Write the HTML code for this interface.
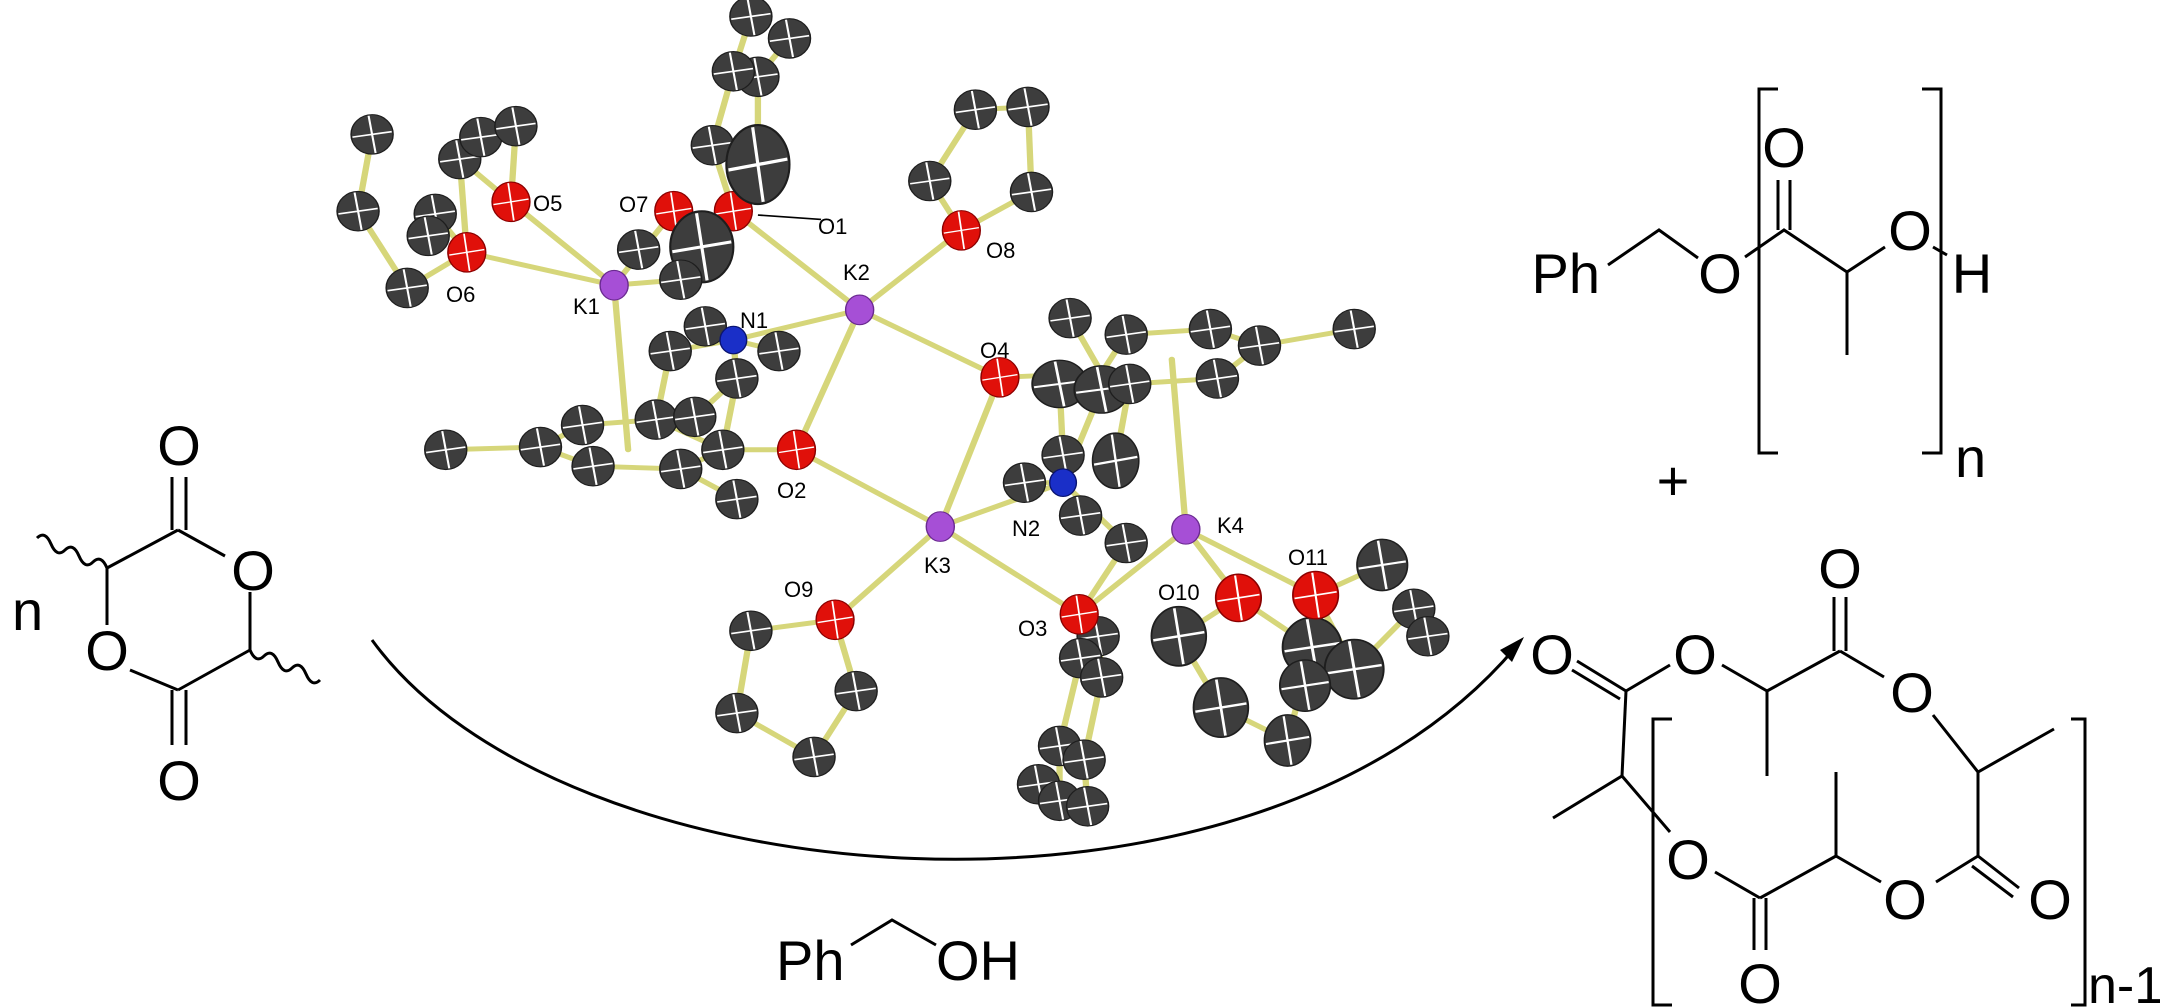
<!DOCTYPE html>
<html><head><meta charset="utf-8"><style>
html,body{margin:0;padding:0;background:#fff;}
svg{display:block;}
text{font-family:"Liberation Sans",Arial,sans-serif;fill:#000;}
</style></head><body>
<svg width="2160" height="1008" viewBox="0 0 2160 1008" xmlns="http://www.w3.org/2000/svg">
<defs>
<g id="c"><ellipse rx="30" ry="36" fill="#3d3d3d" stroke="#1e1e1e" stroke-width="2"/><path d="M-28,5 L28,-5 M-5,-34 L5,34" stroke="#fff" stroke-width="3" fill="none"/></g>
<g id="o"><ellipse rx="27" ry="36" fill="#e0100a" stroke="#8a0000" stroke-width="2"/><path d="M-25,5 L25,-5 M-4,-34 L4,34" stroke="#fff" stroke-width="2.5" fill="none"/></g>
<g id="k"><ellipse rx="20" ry="27" fill="#a64fd6" stroke="#6a2a90" stroke-width="2"/></g>
<g id="n"><ellipse rx="19" ry="25" fill="#1a2fc8" stroke="#0a1470" stroke-width="2"/></g>
</defs>

<!-- Lactide -->
<g stroke="#000" stroke-width="3" fill="none">
<path d="M172,477 L172,530 M186,477 L186,530"/>
<path d="M178,530 L225,556"/>
<path d="M178,530 L107,568"/>
<path d="M107,568 L107,625"/>
<path d="M107,568 q-6,-14 -14,-6 q-8,8 -14,-6 q-6,-14 -14,-6 q-8,8 -14,-6 q-6,-14 -14,-6"/>
<path d="M250,592 L250,650"/>
<path d="M250,650 L178,690"/>
<path d="M130,670 L178,690"/>
<path d="M172,690 L172,745 M186,690 L186,745"/>
<path d="M250,650 q6,14 14,6 q8,-8 14,6 q6,14 14,6 q8,-8 14,6 q6,14 14,6"/>
</g>
<text x="179" y="465" font-size="56" text-anchor="middle">O</text>
<text x="253" y="590" font-size="56" text-anchor="middle">O</text>
<text x="107" y="670" font-size="56" text-anchor="middle">O</text>
<text x="179" y="800" font-size="56" text-anchor="middle">O</text>
<text x="12" y="630" font-size="56">n</text>

<!-- arrow -->
<path d="M372,640 C560,900 1250,960 1515,648" stroke="#000" stroke-width="3" fill="none"/>
<path d="M1524,637 L1500,650 L1512,662 Z" fill="#000"/>

<!-- BnOH -->
<text x="776" y="980" font-size="56">Ph</text>
<path d="M851,945 L892,920 L936,945" stroke="#000" stroke-width="3" fill="none"/>
<text x="936" y="980" font-size="56">OH</text>

<!-- top product -->
<text x="1600" y="293" font-size="56" text-anchor="end">Ph</text>
<g stroke="#000" stroke-width="3" fill="none">
<path d="M1608,265 L1659,230 L1698,258"/>
<path d="M1745,257 L1784,230 L1847,272 L1847,355"/>
<path d="M1778,180 L1778,230 M1790,180 L1790,230"/>
<path d="M1847,272 L1885,247"/>
<path d="M1933,247 L1947,255"/>
<path d="M1778,89 L1759,89 L1759,453 L1778,453"/>
<path d="M1922,89 L1941,89 L1941,453 L1922,453"/>
</g>
<text x="1720" y="293" font-size="56" text-anchor="middle">O</text>
<text x="1784" y="167" font-size="56" text-anchor="middle">O</text>
<text x="1910" y="250" font-size="56" text-anchor="middle">O</text>
<text x="1972" y="293" font-size="56" text-anchor="middle">H</text>
<text x="1955" y="477" font-size="56">n</text>
<text x="1673" y="500" font-size="56" text-anchor="middle">+</text>

<!-- macrocycle -->
<g stroke="#000" stroke-width="3" fill="none">
<path d="M1577,661 L1626,691 M1572,670 L1620,699"/>
<path d="M1626,691 L1670,665"/>
<path d="M1722,665 L1767,691 L1767,776"/>
<path d="M1767,691 L1840,651"/>
<path d="M1834,597 L1834,651 M1846,597 L1846,651"/>
<path d="M1840,651 L1884,677"/>
<path d="M1933,715 L1978,772 L2054,729"/>
<path d="M1978,772 L1978,856"/>
<path d="M1978,856 L2019,888 M1972,866 L2013,897"/>
<path d="M1978,856 L1936,882"/>
<path d="M1881,882 L1836,856 L1836,772"/>
<path d="M1836,856 L1760,898"/>
<path d="M1754,898 L1754,950 M1766,898 L1766,950"/>
<path d="M1760,898 L1715,872"/>
<path d="M1670,832 L1622,776 L1553,818"/>
<path d="M1622,776 L1626,691"/>
<path d="M1672,719 L1653,719 L1653,1005 L1672,1005"/>
<path d="M2071,719 L2085,719 L2085,1005 L2071,1005"/>
</g>
<text x="1552" y="674" font-size="56" text-anchor="middle">O</text>
<text x="1695" y="674" font-size="56" text-anchor="middle">O</text>
<text x="1840" y="588" font-size="56" text-anchor="middle">O</text>
<text x="1912" y="712" font-size="56" text-anchor="middle">O</text>
<text x="2050" y="919" font-size="56" text-anchor="middle">O</text>
<text x="1905" y="919" font-size="56" text-anchor="middle">O</text>
<text x="1688" y="879" font-size="56" text-anchor="middle">O</text>
<text x="1760" y="1003" font-size="56" text-anchor="middle">O</text>
<text x="2088" y="1003" font-size="52">n-1</text>

<!-- crystal structure -->
<g transform="translate(330,0) scale(0.7015,0.5485)">
<g stroke="#d6d67a" stroke-width="9" fill="none" stroke-linecap="round">
<path d="M405,520 L258,368 M405,520 L195,460 M405,520 L490,385 M405,520 L425,820 M405,520 L500,510"/>
<path d="M755,565 L575,385 M755,565 L900,420 M755,565 L575,620 M755,565 L955,688 M755,565 L665,820"/>
<path d="M870,960 L665,820 M870,960 L955,688 M870,960 L1045,880 M870,960 L720,1130 M870,960 L1068,1120"/>
<path d="M1220,965 L1068,1120 M1220,965 L1295,1090 M1220,965 L1405,1085 M1220,965 L1200,655"/>
<path d="M60,245 L40,385 L110,525 L195,460 L185,290 L258,368 M185,290 L215,250 L265,230 L258,368 M150,390 L195,460"/>
<path d="M600,30 L575,130 L545,265 L575,385 M655,70 L610,140 L610,300 M575,130 L610,140"/>
<path d="M920,200 L995,195 L1000,350 L900,420 L855,330 L920,200"/>
<path d="M165,820 L300,815 L360,775 L465,765 L560,820 L665,820 M300,815 L375,850 L500,855 L560,820 M500,855 L580,910 M465,765 L485,640 L575,620 L640,640 M575,620 L535,595 M575,620 L580,690 L560,820 M520,760 L580,690"/>
<path d="M720,1130 L600,1150 L580,1300 L690,1380 L750,1260 L720,1130"/>
<path d="M955,688 L1100,680 L1135,610 L1255,600 L1325,630 L1460,600 M1100,680 L1140,700 L1265,690 L1325,630 M1055,580 L1100,680 M1040,700 L1045,830 L1045,880 L1100,710 M1045,880 L990,880 M1045,880 L1135,990 L1068,1120 M1120,840 L1140,700"/>
<path d="M1068,1120 L1095,1160 L1100,1235 L1075,1385 L1080,1470 M1070,1200 L1040,1360 L1040,1460"/>
<path d="M1295,1090 L1210,1160 L1270,1290 L1365,1350 L1400,1180 L1295,1090 M1405,1085 L1500,1030 M1405,1085 L1460,1220 L1545,1110 L1565,1160"/>
</g>
<use href="#c" transform="translate(60,245)"/><use href="#c" transform="translate(40,385)"/><use href="#c" transform="translate(110,525)"/>
<use href="#c" transform="translate(185,290)"/><use href="#c" transform="translate(215,250)"/><use href="#c" transform="translate(265,230)"/>
<use href="#c" transform="translate(150,390)"/><use href="#c" transform="translate(140,430)"/>
<use href="#c" transform="translate(600,30)"/><use href="#c" transform="translate(655,70)"/><use href="#c" transform="translate(610,140)"/><use href="#c" transform="translate(575,130)"/>
<use href="#c" transform="translate(545,265)"/>
<use href="#o" transform="translate(258,368)"/><use href="#o" transform="translate(195,460)"/><use href="#o" transform="translate(490,385)"/><use href="#o" transform="translate(575,385)"/>
<use href="#c" transform="translate(610,300) scale(1.5,2)"/>
<use href="#c" transform="translate(440,455)"/><use href="#c" transform="translate(530,450) scale(1.5,1.8)"/><use href="#c" transform="translate(500,510)"/>
<use href="#c" transform="translate(920,200)"/><use href="#c" transform="translate(995,195)"/><use href="#c" transform="translate(855,330)"/><use href="#c" transform="translate(1000,350)"/>
<use href="#o" transform="translate(900,420)"/>
<use href="#c" transform="translate(165,820)"/><use href="#c" transform="translate(300,815)"/><use href="#c" transform="translate(360,775)"/><use href="#c" transform="translate(375,850)"/>
<use href="#c" transform="translate(465,765)"/><use href="#c" transform="translate(520,760)"/><use href="#c" transform="translate(500,855)"/><use href="#c" transform="translate(580,910)"/>
<use href="#c" transform="translate(560,820)"/><use href="#c" transform="translate(485,640)"/><use href="#c" transform="translate(535,595)"/><use href="#c" transform="translate(640,640)"/><use href="#c" transform="translate(580,690)"/>
<use href="#c" transform="translate(600,1150)"/><use href="#c" transform="translate(580,1300)"/><use href="#c" transform="translate(690,1380)"/><use href="#c" transform="translate(750,1260)"/>
<use href="#c" transform="translate(1055,580)"/><use href="#c" transform="translate(1135,610)"/><use href="#c" transform="translate(1255,600)"/><use href="#c" transform="translate(1325,630)"/>
<use href="#c" transform="translate(1460,600)"/><use href="#c" transform="translate(1265,690)"/><use href="#c" transform="translate(1040,700) scale(1.3,1.2)"/><use href="#c" transform="translate(1100,710) scale(1.3,1.2)"/>
<use href="#c" transform="translate(1140,700)"/><use href="#c" transform="translate(1120,840) scale(1.1,1.4)"/><use href="#c" transform="translate(990,880)"/><use href="#c" transform="translate(1045,830)"/>
<use href="#c" transform="translate(1070,940)"/><use href="#c" transform="translate(1135,990)"/>
<use href="#c" transform="translate(1095,1160)"/><use href="#c" transform="translate(1070,1200)"/><use href="#c" transform="translate(1100,1235)"/><use href="#c" transform="translate(1040,1360)"/>
<use href="#c" transform="translate(1075,1385)"/><use href="#c" transform="translate(1010,1430)"/><use href="#c" transform="translate(1040,1460)"/><use href="#c" transform="translate(1080,1470)"/>
<use href="#c" transform="translate(1210,1160) scale(1.3,1.5)"/><use href="#c" transform="translate(1500,1030) scale(1.2,1.3)"/><use href="#c" transform="translate(1545,1110)"/><use href="#c" transform="translate(1565,1160)"/>
<use href="#c" transform="translate(1400,1180) scale(1.4,1.5)"/><use href="#c" transform="translate(1460,1220) scale(1.4,1.5)"/><use href="#c" transform="translate(1390,1250) scale(1.2,1.3)"/>
<use href="#c" transform="translate(1270,1290) scale(1.3,1.5)"/><use href="#c" transform="translate(1365,1350) scale(1.1,1.3)"/>
<use href="#o" transform="translate(955,688)"/><use href="#o" transform="translate(665,820)"/><use href="#o" transform="translate(720,1130)"/><use href="#o" transform="translate(1068,1120)"/>
<use href="#o" transform="translate(1295,1090) scale(1.2,1.2)"/><use href="#o" transform="translate(1405,1085) scale(1.2,1.2)"/>
<use href="#k" transform="translate(405,520)"/><use href="#k" transform="translate(755,565)"/><use href="#k" transform="translate(870,960)"/><use href="#k" transform="translate(1220,965)"/>
<use href="#n" transform="translate(575,620)"/><use href="#n" transform="translate(1045,880)"/>
<path d="M700,400 L610,392" stroke="#000" stroke-width="3" fill="none"/>
</g>
<g font-size="22">
<text x="533" y="211">O5</text>
<text x="619" y="212">O7</text>
<text x="818" y="234">O1</text>
<text x="986" y="258">O8</text>
<text x="446" y="302">O6</text>
<text x="573" y="314">K1</text>
<text x="843" y="280">K2</text>
<text x="740" y="328">N1</text>
<text x="980" y="358">O4</text>
<text x="777" y="498">O2</text>
<text x="1012" y="536">N2</text>
<text x="924" y="573">K3</text>
<text x="1217" y="533">K4</text>
<text x="1288" y="565">O11</text>
<text x="1158" y="600">O10</text>
<text x="784" y="597">O9</text>
<text x="1018" y="636">O3</text>
</g>
</svg>
</body></html>
